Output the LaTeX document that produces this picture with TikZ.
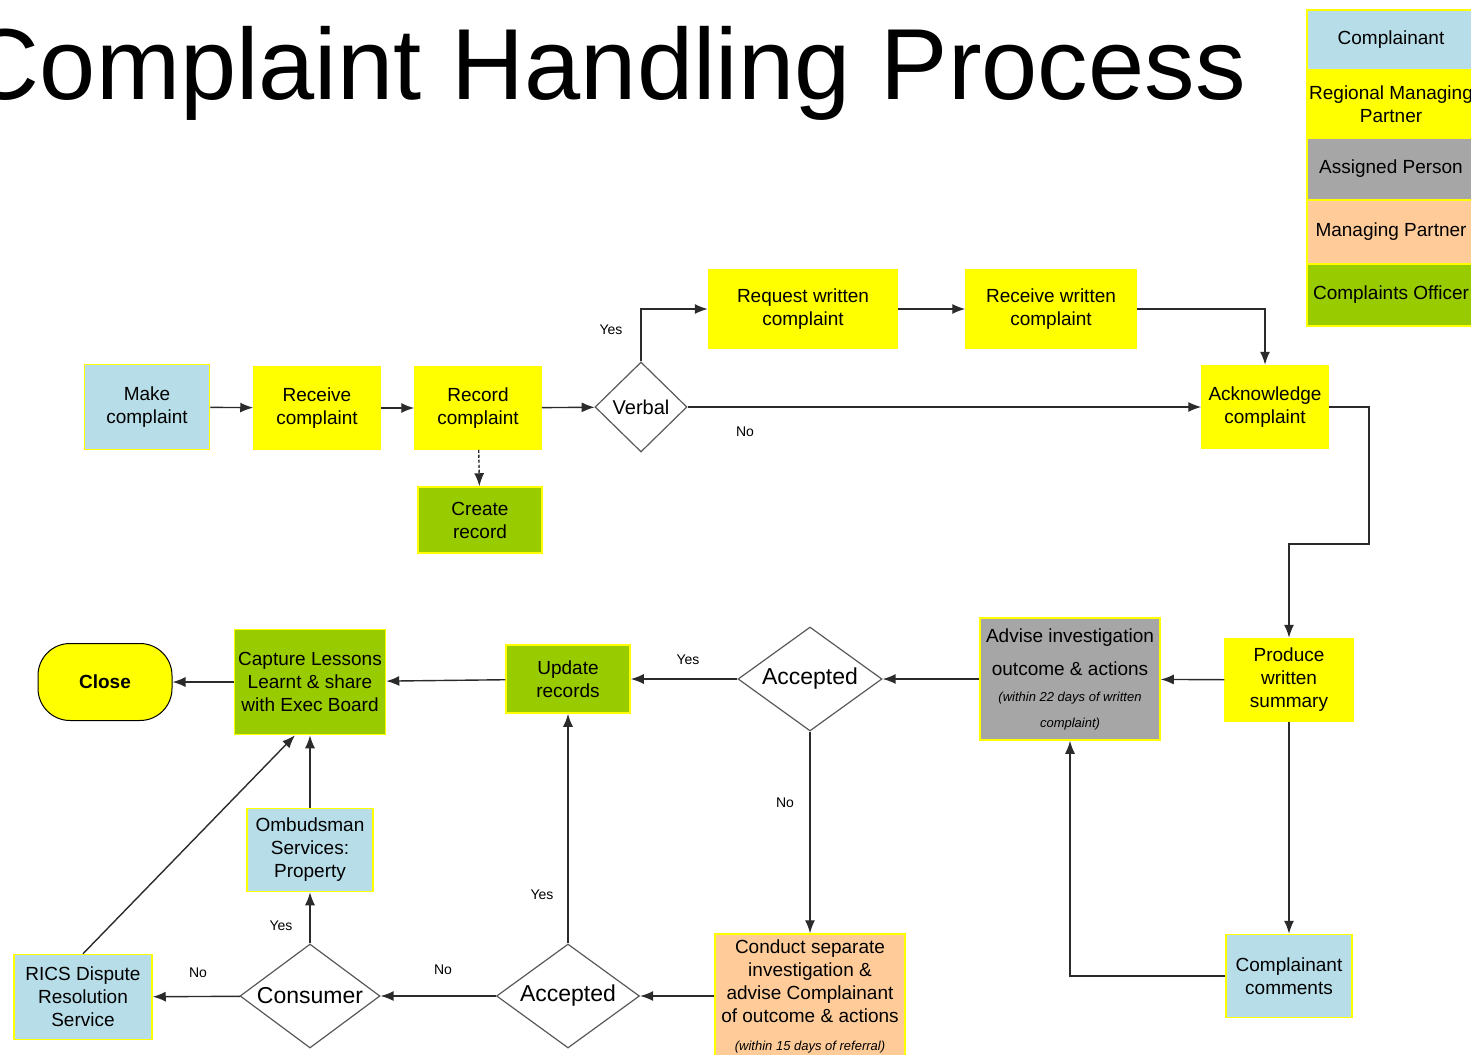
\documentclass[tikz,border=0pt]{standalone}
\usepackage{fontspec}
\setmainfont{Liberation Sans}
\usetikzlibrary{shapes.geometric,arrows.meta}
\definecolor{cblue}{HTML}{B7DDE8}
\definecolor{cyellow}{HTML}{FFFF00}
\definecolor{cgrey}{HTML}{A6A6A6}
\definecolor{cpeach}{HTML}{FFCC99}
\definecolor{cgreen}{HTML}{99CC00}
\definecolor{cline}{HTML}{2B2B2B}
\newcommand{\noteit}[1]{{\fontsize{13}{15}\selectfont\itshape #1}}

\begin{document}
\begin{tikzpicture}[x=1pt,y=-1pt,
  box/.style={draw=cyellow,line width=1.5pt,inner sep=2pt,align=center,
    font=\fontsize{19}{23}\selectfont},
  diam/.style={diamond,draw=black!65,line width=1.2pt,fill=white,inner sep=0pt,
    font=\fontsize{23}{26}\selectfont},
  arr/.style={draw=cline,line width=1.4pt,-{Latex[length=13pt,width=10pt]}},
  lbl/.style={font=\fontsize{14}{16}\selectfont}]
  \useasboundingbox (0,0) rectangle (1471,1054);
  \clip (0,0) rectangle (1471,1054);

  %% title
  \node[anchor=base east,inner sep=0pt,font=\fontsize{101}{112}\selectfont] (title)
    at (1246,100) {Complaint\hspace{0.3em}Handling\hspace{0.3em}Process};

  %% legend
  \node[box,fill=cblue,minimum width=168pt,minimum height=60pt] (lgcomp) at (1391,40) {Complainant};
  \node[box,fill=cyellow,minimum width=168pt,minimum height=68pt] (lgrmp) at (1391,104) {Regional Managing\\Partner};
  \node[box,fill=cgrey,minimum width=168pt,minimum height=62pt] (lgasg) at (1391,169) {Assigned Person};
  \node[box,fill=cpeach,minimum width=168pt,minimum height=64pt] (lgmp) at (1391,232) {Managing Partner};
  \node[box,fill=cgreen,minimum width=168pt,minimum height=62pt] (lgco) at (1391,295) {Complaints Officer};

  %% top row
  \node[box,fill=cblue,minimum width=125pt,minimum height=85pt] (make) at (147,407) {Make\\complaint};
  \node[box,fill=cyellow,minimum width=126pt,minimum height=82pt] (receive) at (317,408) {Receive\\complaint};
  \node[box,fill=cyellow,minimum width=126pt,minimum height=82pt] (record) at (478,408) {Record\\complaint};
  \node[box,fill=cgreen,minimum width=124pt,minimum height=66pt] (create) at (480,520) {Create\\record};
  \node[diam,minimum width=92pt,minimum height=90pt,font=\fontsize{20}{22}\selectfont] (verbal) at (641,407) {Verbal};
  \node[box,fill=cyellow,minimum width=189pt,minimum height=79pt] (request) at (803,309) {Request written\\complaint};
  \node[box,fill=cyellow,minimum width=170pt,minimum height=79pt] (recwritten) at (1051,309) {Receive written\\complaint};
  \node[box,fill=cyellow,minimum width=126pt,minimum height=83pt] (ack) at (1265,407) {Acknowledge\\complaint};

  %% middle row
  \node[box,fill=cyellow,minimum width=128pt,minimum height=83pt] (produce) at (1289,680) {Produce\\written\\summary};
  \node[box,fill=cgrey,minimum width=180pt,minimum height=122pt] (advise) at (1070,679)
    {Advise investigation\\[10pt]outcome \& actions\\[3pt]\noteit{(within 22 days of written}\\[3pt]\noteit{complaint)}};
  \node[diam,minimum width=144pt,minimum height=104pt] (accepted) at (810,679) {\makebox[40pt]{Accepted}};
  \node[box,fill=cgreen,minimum width=124pt,minimum height=68pt] (update) at (568,679) {Update\\records};
  \node[box,fill=cgreen,minimum width=151pt,minimum height=105pt] (capture) at (310,682) {Capture Lessons\\Learnt \& share\\with Exec Board};
  \node[draw=black,line width=1pt,fill=cyellow,rounded corners=32pt,minimum width=134pt,minimum height=77pt,
    font=\fontsize{19}{23}\selectfont\bfseries] (close) at (105,682) {Close};

  %% bottom row
  \node[box,fill=cblue,minimum width=126pt,minimum height=83pt] (ombud) at (310,850) {Ombudsman\\Services:\\Property};
  \node[box,fill=cblue,minimum width=138pt,minimum height=85pt] (rics) at (83,997) {RICS Dispute\\Resolution\\Service};
  \node[diam,minimum width=140pt,minimum height=104pt] (consumer) at (310,996) {\makebox[40pt]{Consumer}};
  \node[diam,minimum width=143pt,minimum height=104pt] (accepted2) at (568,996) {\makebox[40pt]{Accepted}};
  \node[box,fill=cpeach,minimum width=190pt,minimum height=124pt] (conduct) at (810,996)
    {Conduct separate\\investigation \&\\advise Complainant\\of outcome \& actions\\[5pt]\noteit{(within 15 days of referral)}};
  \node[box,fill=cblue,minimum width=126pt,minimum height=83pt] (comments) at (1289,976) {Complainant\\comments};

  %% connectors
  \coordinate (bend) at (1369,544);
  \draw[arr] (make) -- (receive);
  \draw[arr] (receive) -- (record);
  \draw[arr,dash pattern=on 3pt off 2pt] (record) -- (create);
  \draw[arr] (record) -- (verbal);
  \draw[arr] (verbal.north) |- (request.west);
  \draw[arr] (request) -- (recwritten);
  \draw[arr] (recwritten.east) -| (ack.north);
  \draw[arr] (verbal.east) -- (ack.west);
  \draw[arr] (ack.east) -| (bend) -| (produce.north);
  \draw[arr] (produce) -- (advise);
  \draw[arr] (produce) -- (comments);
  \draw[arr] (comments.west) -| (advise.south);
  \draw[arr] (advise) -- (accepted);
  \draw[arr] (accepted) -- (update);
  \draw[arr] (accepted) -- (conduct);
  \draw[arr] (conduct) -- (accepted2);
  \draw[arr] (accepted2) -- (update);
  \draw[arr] (accepted2) -- (consumer);
  \draw[arr] (consumer) -- (ombud);
  \draw[arr] (consumer) -- (rics);
  \draw[arr] (ombud) -- (capture);
  \draw[arr] (rics.north) -- ([xshift=-15pt]capture.south);
  \draw[arr] (update) -- (capture);
  \draw[arr] (capture) -- (close);

  %% labels
  \node[lbl] (yes1) at (611,330) {Yes};
  \node[lbl] (no1) at (745,432) {No};
  \node[lbl] (yes2) at (688,660) {Yes};
  \node[lbl] (no2) at (785,803) {No};
  \node[lbl] (yes3) at (542,895) {Yes};
  \node[lbl] (no3) at (443,970) {No};
  \node[lbl] (yes4) at (281,926) {Yes};
  \node[lbl] (no4) at (198,973) {No};

\end{tikzpicture}
\end{document}
